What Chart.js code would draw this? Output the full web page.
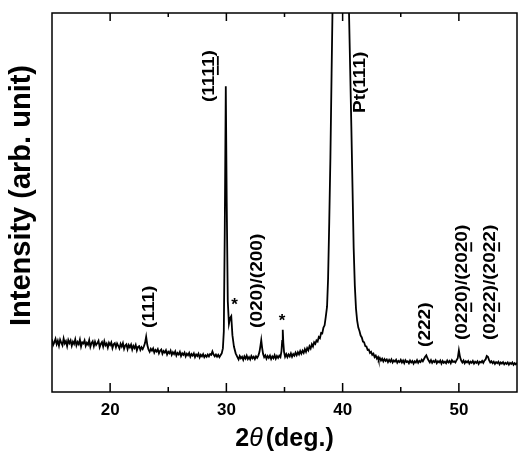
<!DOCTYPE html>
<html>
<head>
<meta charset="utf-8">
<title>XRD pattern</title>
<script src="https://cdn.jsdelivr.net/npm/chart.js@4.4.1/dist/chart.umd.min.js"></script>
<style>
  html, body { margin: 0; padding: 0; background: #fff; }
</style>
</head>
<body>
<canvas id="xrd" width="524" height="456"></canvas>
<script>
// Скан: [2θ, интенсивность] — интенсивность в условных единицах (0..100 = высота рамки)
const scanPoints = [
  [15.0, 13.9], [15.1, 12.4], [15.2, 13.1], [15.3, 14.0], [15.4, 12.6], [15.5, 13.5], [15.6, 12.2], [15.7, 13.8], [15.8, 13.0], [15.9, 12.3],
  [16.0, 14.1], [16.1, 12.8], [16.2, 13.4], [16.3, 12.1], [16.4, 13.7], [16.5, 12.9], [16.6, 13.6], [16.7, 12.2], [16.8, 13.3], [16.9, 12.7],
  [17.0, 13.9], [17.1, 12.3], [17.2, 13.2], [17.3, 12.6], [17.4, 13.8], [17.5, 12.0], [17.6, 13.1], [17.7, 12.8], [17.8, 13.6], [17.9, 12.2],
  [18.0, 13.0], [18.1, 12.5], [18.2, 13.7], [18.3, 11.9], [18.4, 12.9], [18.5, 13.4], [18.6, 12.1], [18.7, 13.3], [18.8, 12.4], [18.9, 12.9],
  [19.0, 13.5], [19.1, 11.8], [19.2, 12.7], [19.3, 13.2], [19.4, 12.0], [19.5, 13.4], [19.6, 12.3], [19.7, 12.8], [19.8, 11.7], [19.9, 13.0],
  [20.0, 12.4], [20.1, 13.1], [20.2, 11.6], [20.3, 12.6], [20.4, 12.9], [20.5, 11.8], [20.6, 12.8], [20.7, 12.2], [20.8, 11.5], [20.9, 12.7],
  [21.0, 12.0], [21.1, 12.9], [21.2, 11.4], [21.3, 12.3], [21.4, 12.6], [21.5, 11.3], [21.6, 12.4], [21.7, 11.8], [21.8, 12.5], [21.9, 11.2],
  [22.0, 12.2], [22.1, 11.6], [22.2, 12.4], [22.3, 11.0], [22.4, 11.9], [22.5, 12.1], [22.6, 11.1], [22.7, 11.8], [22.8, 11.3], [22.9, 12.0],
  [23.0, 12.9], [23.1, 14.6], [23.2, 12.4], [23.3, 11.2], [23.4, 10.6], [23.5, 11.4], [23.6, 10.9], [23.7, 11.5], [23.8, 10.4], [23.9, 11.1],
  [24.0, 10.7], [24.1, 11.3], [24.2, 10.2], [24.3, 10.9], [24.4, 11.2], [24.5, 10.1], [24.6, 10.8], [24.7, 10.4], [24.8, 11.0], [24.9, 9.9],
  [25.0, 10.6], [25.1, 10.2], [25.2, 10.9], [25.3, 9.8], [25.4, 10.5], [25.5, 10.0], [25.6, 10.7], [25.7, 9.6], [25.8, 10.3], [25.9, 9.9],
  [26.0, 10.6], [26.1, 9.5], [26.2, 10.2], [26.3, 9.8], [26.4, 10.4], [26.5, 9.4], [26.6, 10.1], [26.7, 9.7], [26.8, 10.3], [26.9, 9.3],
  [27.0, 10.0], [27.1, 9.6], [27.2, 10.2], [27.3, 9.2], [27.4, 9.9], [27.5, 9.5], [27.6, 10.1], [27.7, 9.1], [27.8, 9.8], [27.9, 9.4],
  [28.0, 10.0], [28.1, 9.2], [28.2, 9.7], [28.3, 9.3], [28.4, 9.9], [28.5, 9.4], [28.6, 10.0], [28.7, 9.8], [28.8, 10.7], [28.9, 9.9],
  [29.0, 9.4], [29.1, 9.9], [29.2, 9.3], [29.3, 9.8], [29.4, 9.2], [29.5, 9.7], [29.6, 10.2], [29.7, 11.5], [29.78, 16.0], [29.86, 42.0],
  [29.95, 80.7], [30.03, 50.0], [30.12, 24.0], [30.22, 18.0], [30.32, 19.5], [30.42, 20.0], [30.52, 15.0], [30.65, 12.0], [30.8, 10.2], [30.95, 9.2],
  [31.05, 8.6], [31.15, 9.5], [31.25, 8.9], [31.35, 9.3], [31.45, 8.5], [31.55, 9.4], [31.65, 8.8], [31.75, 9.6], [31.85, 8.7], [31.95, 9.2],
  [32.05, 8.6], [32.15, 9.5], [32.25, 8.9], [32.35, 9.3], [32.45, 8.7], [32.55, 9.4], [32.65, 9.0], [32.75, 9.6], [32.85, 10.6], [32.93, 12.2],
  [33.0, 13.7], [33.08, 11.6], [33.16, 10.0], [33.25, 9.2], [33.35, 9.7], [33.45, 8.8], [33.55, 9.5], [33.65, 9.0], [33.75, 9.6], [33.85, 8.7],
  [33.95, 9.4], [34.05, 8.9], [34.15, 9.7], [34.25, 8.8], [34.35, 9.5], [34.45, 9.0], [34.55, 9.6], [34.65, 9.2], [34.74, 10.8], [34.8, 13.5],
  [34.85, 16.4], [34.9, 13.0], [34.96, 10.6], [35.05, 9.3], [35.15, 10.0], [35.25, 9.2], [35.35, 9.9], [35.45, 9.4], [35.55, 10.2], [35.65, 9.3],
  [35.75, 10.0], [35.85, 9.6], [35.95, 10.4], [36.05, 9.7], [36.15, 10.5], [36.25, 9.9], [36.35, 10.8], [36.45, 10.1], [36.55, 10.9], [36.65, 10.3],
  [36.75, 11.3], [36.85, 10.6], [36.95, 11.6], [37.05, 11.0], [37.15, 12.1], [37.25, 11.5], [37.35, 12.6], [37.45, 12.0], [37.55, 13.1], [37.65, 12.7],
  [37.75, 13.6], [37.85, 13.3], [37.95, 14.5], [38.05, 14.2], [38.15, 15.6], [38.25, 15.5], [38.35, 17.0], [38.45, 17.6], [38.55, 19.8], [38.66, 22.5],
  [38.75, 30.0], [38.85, 45.0], [38.95, 62.0], [39.05, 84.0], [39.15, 105.0], [39.4, 140.0], [39.8, 160.0], [40.2, 145.0], [40.45, 115.0], [40.55, 100.0],
  [40.65, 85.0], [40.75, 70.0], [40.85, 54.0], [40.95, 38.0], [41.05, 28.0], [41.15, 22.0], [41.25, 18.8], [41.35, 17.0], [41.45, 16.1], [41.55, 14.9],
  [41.65, 14.4], [41.75, 13.3], [41.85, 13.1], [41.95, 12.1], [42.05, 12.0], [42.15, 11.1], [42.25, 11.2], [42.35, 10.3], [42.45, 10.6], [42.55, 9.8],
  [42.65, 10.1], [42.75, 9.2], [42.85, 9.6], [42.95, 8.8], [43.05, 9.2], [43.1, 8.5], [43.2, 9.0], [43.3, 8.3], [43.4, 8.8], [43.5, 8.1],
  [43.6, 8.7], [43.7, 8.2], [43.8, 8.6], [43.9, 7.9], [44.0, 8.5], [44.1, 8.0], [44.2, 8.6], [44.3, 7.8], [44.4, 8.3], [44.5, 8.0],
  [44.6, 8.5], [44.7, 7.7], [44.8, 8.2], [44.9, 7.9], [45.0, 8.5], [45.1, 7.8], [45.2, 8.3], [45.3, 7.6], [45.4, 8.4], [45.5, 7.9],
  [45.6, 8.1], [45.7, 7.6], [45.8, 8.3], [45.9, 7.8], [46.0, 8.2], [46.1, 7.5], [46.2, 8.1], [46.3, 7.8], [46.4, 8.4], [46.5, 7.7],
  [46.6, 8.2], [46.7, 7.9], [46.8, 8.5], [46.9, 8.1], [47.0, 8.7], [47.1, 9.3], [47.2, 9.7], [47.3, 8.9], [47.4, 8.3], [47.5, 7.8],
  [47.6, 8.4], [47.7, 7.7], [47.8, 8.2], [47.9, 7.9], [48.0, 8.4], [48.1, 7.6], [48.2, 8.1], [48.3, 7.8], [48.4, 8.3], [48.5, 7.5],
  [48.6, 8.2], [48.7, 7.7], [48.8, 8.0], [48.9, 7.6], [49.0, 8.3], [49.1, 7.8], [49.2, 8.2], [49.3, 7.6], [49.4, 8.4], [49.5, 7.9],
  [49.6, 8.1], [49.7, 7.8], [49.8, 8.4], [49.9, 8.9], [50.0, 11.0], [50.1, 9.2], [50.2, 8.3], [50.3, 7.8], [50.4, 8.3], [50.5, 7.6],
  [50.6, 8.1], [50.7, 7.8], [50.8, 8.2], [50.9, 7.5], [51.0, 8.0], [51.1, 7.7], [51.2, 8.2], [51.3, 7.5], [51.4, 8.0], [51.5, 7.7],
  [51.6, 8.1], [51.7, 7.4], [51.8, 8.0], [51.9, 7.8], [52.0, 8.2], [52.1, 7.7], [52.2, 8.3], [52.3, 8.6], [52.4, 9.5], [52.5, 9.3],
  [52.6, 8.4], [52.7, 7.8], [52.8, 8.1], [52.9, 7.6], [53.0, 8.0], [53.1, 7.4], [53.2, 7.9], [53.3, 7.6], [53.4, 8.0], [53.5, 7.3],
  [53.6, 7.8], [53.7, 7.5], [53.8, 7.9], [53.9, 7.3], [54.0, 7.7], [54.1, 7.4], [54.2, 7.8], [54.3, 7.2], [54.4, 7.7], [54.5, 7.4],
  [54.6, 7.8], [54.7, 7.2], [54.8, 7.6], [54.9, 7.3], [55.0, 7.7]
];

// Подписи рефлексов (текст идёт снизу вверх)
const peakLabels = ['(111)', '(1111)', '(020)/(200)', 'Pt(111)', '(222)', '(0220)/(2020)', '(0222)/(2022)'];
const peakLabelAngle = [23.4, 28.5, 32.7, 41.5, 47.1, 50.3, 52.7];   // 2θ центра подписи
const peakLabelBase = [16.9, 76.5, 16.9, 73.6, 11.9, 13.7, 13.7];    // интенсивность начала подписи
const peakLabelUnderline = [[], [3, 4], [], [], [], [3, 10], [3, 10]]; // подчёркнутые индексы

// Звёздочки (примесные пики)
const starAngle = [30.7, 34.8];
const starLevel = [23.7, 19.5];

const majorTicks = [20, 30, 40, 50];
const minorTicks = [25, 35, 45];

const FONT = '"Liberation Sans", Arial, Helvetica, sans-serif';

// Рамка, внутренние риски, подписи пиков и подписи осей
const xrdDecorPlugin = {
  id: 'xrdDecor',
  afterDraw(chart) {
    const { ctx, chartArea: a, scales } = chart;
    const xs = scales.x;
    const ys = scales.y;
    ctx.save();

    ctx.strokeStyle = '#000';
    ctx.lineWidth = 1.5;
    ctx.strokeRect(a.left, a.top, a.right - a.left, a.bottom - a.top);

    ctx.beginPath();
    majorTicks.forEach((v) => {
      const px = xs.getPixelForValue(v);
      ctx.moveTo(px, a.bottom); ctx.lineTo(px, a.bottom - 9);
      ctx.moveTo(px, a.top); ctx.lineTo(px, a.top + 8);
    });
    minorTicks.forEach((v) => {
      const px = xs.getPixelForValue(v);
      ctx.moveTo(px, a.bottom); ctx.lineTo(px, a.bottom - 5);
      ctx.moveTo(px, a.top); ctx.lineTo(px, a.top + 4);
    });
    ctx.stroke();

    ctx.fillStyle = '#000';
    peakLabels.forEach((lab, i) => {
      const px = xs.getPixelForValue(peakLabelAngle[i]);
      const py = ys.getPixelForValue(peakLabelBase[i]);
      ctx.save();
      ctx.translate(px, py);
      ctx.rotate(-Math.PI / 2);
      ctx.scale(1.12, 1);
      ctx.font = 'bold 17px ' + FONT;
      ctx.textAlign = 'left';
      ctx.textBaseline = 'middle';
      ctx.fillText(lab, 0, 0);
      peakLabelUnderline[i].forEach((k) => {
        const x0 = ctx.measureText(lab.slice(0, k)).width;
        const w = ctx.measureText(lab[k]).width;
        ctx.fillRect(x0 + 0.5, 8, w - 1, 1.8);
      });
      ctx.restore();
    });

    ctx.font = 'bold 17px ' + FONT;
    ctx.textAlign = 'center';
    ctx.textBaseline = 'middle';
    starAngle.forEach((v, i) => {
      ctx.fillText('*', xs.getPixelForValue(v), ys.getPixelForValue(starLevel[i]) + 3);
    });

    // Подпись оси Y (чуть выше центра, как в оригинале)
    ctx.save();
    ctx.translate(22, (a.top + a.bottom) / 2 - 7);
    ctx.rotate(-Math.PI / 2);
    ctx.font = 'bold 29px ' + FONT;
    ctx.textAlign = 'center';
    ctx.textBaseline = 'middle';
    ctx.fillText('Intensity (arb. unit)', 0, 0);
    ctx.restore();

    // 2θ(deg.) — θ курсивом
    const parts = [
      { t: '2', f: 'bold 25px ' + FONT },
      { t: 'θ', f: 'italic 25px ' + FONT },
      { t: '(deg.)', f: 'bold 25px ' + FONT },
    ];
    let total = 0;
    parts.forEach((p) => { ctx.font = p.f; p.w = ctx.measureText(p.t).width; total += p.w + (p.t === 'θ' ? 3 : 0); });
    let cx = (a.left + a.right) / 2 - total / 2;
    ctx.textAlign = 'left';
    ctx.textBaseline = 'alphabetic';
    parts.forEach((p) => {
      ctx.font = p.f;
      ctx.fillText(p.t, cx, 446);
      cx += p.w + (p.t === 'θ' ? 3 : 0);
    });

    ctx.restore();
  },
};

new Chart(document.getElementById('xrd'), {
  type: 'line',
  data: {
    datasets: [{
      data: scanPoints.map(([x, y]) => ({ x, y })),
      borderColor: '#000',
      borderWidth: 1.8,
      pointRadius: 0,
      tension: 0,
      fill: false,
    }],
  },
  options: {
    responsive: false,
    animation: false,
    layout: { padding: { top: 13, right: 7, left: 0, bottom: 0 } },
    plugins: { legend: { display: false }, tooltip: { enabled: false } },
    scales: {
      x: {
        type: 'linear',
        min: 15,
        max: 55,
        afterBuildTicks: (scale) => { scale.ticks = majorTicks.map((v) => ({ value: v })); },
        afterFit: (scale) => { scale.height = 64; },
        grid: { display: false, drawTicks: false },
        border: { display: false },
        ticks: {
          color: '#000',
          padding: 8,
          font: { family: FONT, size: 17, weight: 'bold' },
        },
      },
      y: {
        min: 0,
        max: 100,
        afterFit: (scale) => { scale.width = 52; },
        grid: { display: false, drawTicks: false },
        border: { display: false },
        ticks: { display: false },
      },
    },
  },
  plugins: [xrdDecorPlugin],
});
</script>
</body>
</html>
